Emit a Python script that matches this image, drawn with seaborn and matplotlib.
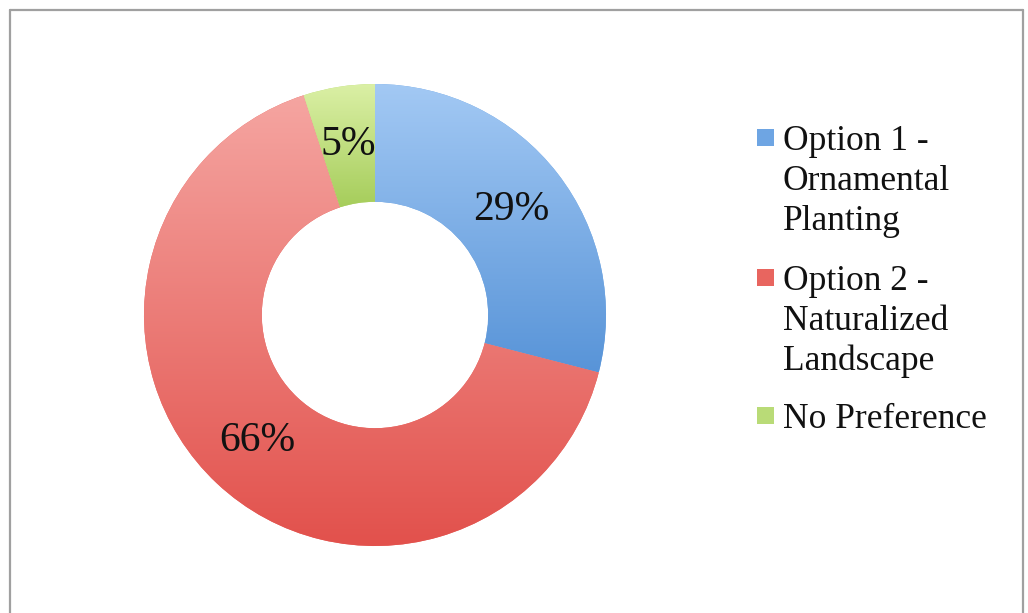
import numpy as np
import matplotlib
matplotlib.use("Agg")
import matplotlib.pyplot as plt
from matplotlib.colors import LinearSegmentedColormap
from matplotlib.patches import Rectangle
from matplotlib.lines import Line2D
import seaborn as sns

# ---- data ----
categories = ["Option 1 -\nOrnamental\nPlanting",
              "Option 2 -\nNaturalized\nLandscape",
              "No Preference"]
values = [29, 66, 5]
pct_labels = ["29%", "66%", "5%"]
top_colors = ["#a3c9f4", "#f5a5a1", "#dbf0a6"]
bottom_colors = ["#5894d8", "#e2514c", "#a6cd5b"]
mid_colors = ["#6ea5e3", "#e8655f", "#b9db77"]

sns.set_theme(style="white")
plt.rcParams["font.family"] = ["Liberation Serif", "DejaVu Serif"]

W, H = 1028, 613
fig = plt.figure(figsize=(W / 100, H / 100), dpi=100)
fig.patch.set_facecolor("white")

cx, cy, R = 375, 315, 231
ax = fig.add_axes([(cx - R) / W, (H - cy - R) / H, 2 * R / W, 2 * R / H])

wedges, _ = ax.pie(values, startangle=90, counterclock=False, radius=1,
                   colors=sns.color_palette(mid_colors),
                   wedgeprops=dict(width=0.51, linewidth=0, edgecolor="none"))
ax.set_xlim(-1, 1)
ax.set_ylim(-1, 1)
ax.set_aspect("equal")
ax.axis("off")

# gradient fill clipped to each wedge
for w, tc, bc in zip(wedges, top_colors, bottom_colors):
    ext = w.get_path().get_extents()
    cmap = LinearSegmentedColormap.from_list("g", [bc, tc])
    grad = np.linspace(0, 1, 256).reshape(-1, 1)
    im = ax.imshow(grad, cmap=cmap, origin="lower", aspect="auto",
                   extent=[ext.x0, ext.x1, ext.y0, ext.y1], zorder=2,
                   interpolation="bilinear")
    im.set_clip_path(w)
ax.set_xlim(-1, 1)
ax.set_ylim(-1, 1)

# percentage labels at ring middle
total = sum(values)
start = 90.0
for v, lab in zip(values, pct_labels):
    ang = np.deg2rad(start - v / total * 360 / 2)
    start -= v / total * 360
    r = 0.745
    ax.text(r * np.cos(ang), r * np.sin(ang), lab, ha="center", va="center",
            fontsize=30, color="#111111", zorder=5)

# legend drawn manually (multi-line labels, marker aligned to first line)
first_baselines = [150, 290, 428]
line_step = 40
for lab, col, yb in zip(categories, mid_colors, first_baselines):
    sq = 17
    fig.add_artist(Rectangle((757 / W, 1 - (yb - 4) / H), sq / W, sq / H,
                             transform=fig.transFigure, facecolor=col,
                             edgecolor="none"))
    for i, line in enumerate(lab.split("\n")):
        fig.text(783 / W, 1 - (yb + i * line_step) / H, line,
                 ha="left", va="baseline", fontsize=25.5, color="#111111")

# outer frame
frame_col = "#a0a0a0"
fig.add_artist(Line2D([10 / W, 10 / W], [0, 1 - 10 / H], transform=fig.transFigure,
                      color=frame_col, linewidth=1.6))
fig.add_artist(Line2D([10 / W, 1023 / W], [1 - 10 / H, 1 - 10 / H],
                      transform=fig.transFigure, color=frame_col, linewidth=1.6))
fig.add_artist(Line2D([1023 / W, 1023 / W], [0, 1 - 10 / H], transform=fig.transFigure,
                      color=frame_col, linewidth=1.6))

fig.savefig("out.png", dpi=100)
